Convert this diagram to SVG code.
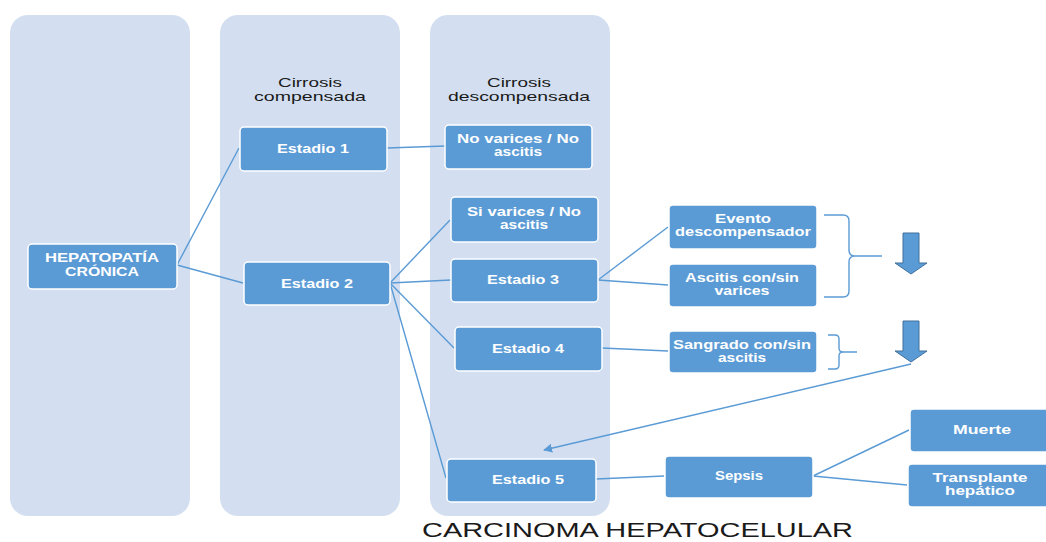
<svg xmlns="http://www.w3.org/2000/svg" width="1046" height="542" viewBox="0 0 1046 542">
<defs>
<style>
.col{fill:#d3dff0;}
.node rect{fill:#5b9bd5;stroke:#ffffff;stroke-width:1.5;}
.node text{fill:#ffffff;font-family:"Liberation Sans",Arial,sans-serif;font-weight:bold;font-size:12.5px;text-anchor:middle;}
.hdr{fill:#1a1a1a;font-family:"Liberation Sans",Arial,sans-serif;font-size:13px;text-anchor:middle;}
.conn{stroke:#5b9bd5;stroke-width:1.4;fill:none;}
.barrow{fill:#5b9bd5;stroke:#41719c;stroke-width:1;}
</style>
<marker id="ah" viewBox="0 0 10 10" refX="9" refY="5" markerWidth="9" markerHeight="9" markerUnits="userSpaceOnUse" orient="auto">
<path d="M0,0 L10,5 L0,10 Z" fill="#5b9bd5"/>
</marker>
</defs>
<rect width="1046" height="542" fill="#ffffff"/>
<g id="columns">
<rect class="col" x="10" y="15" width="180" height="501" rx="18"/>
<rect class="col" x="220" y="15" width="180" height="501" rx="18"/>
<rect class="col" x="430" y="15" width="180" height="501" rx="18"/>
</g>
<g id="headers">
<text class="hdr" x="310" y="87" textLength="64" lengthAdjust="spacingAndGlyphs">Cirrosis</text>
<text class="hdr" x="310" y="101" textLength="112" lengthAdjust="spacingAndGlyphs">compensada</text>
<text class="hdr" x="519" y="87" textLength="64" lengthAdjust="spacingAndGlyphs">Cirrosis</text>
<text class="hdr" x="519" y="101" textLength="142" lengthAdjust="spacingAndGlyphs">descompensada</text>
</g>
<g id="connectors">
<line class="conn" x1="177" y1="265" x2="239" y2="148"/>
<line class="conn" x1="177" y1="265" x2="243" y2="283"/>
<line class="conn" x1="387" y1="148" x2="445" y2="146"/>
<line class="conn" x1="390" y1="283" x2="450" y2="220"/>
<line class="conn" x1="390" y1="283" x2="451" y2="280"/>
<line class="conn" x1="390" y1="283" x2="454" y2="348"/>
<line class="conn" x1="390" y1="283" x2="446" y2="478"/>
<line class="conn" x1="598" y1="280" x2="668" y2="227"/>
<line class="conn" x1="598" y1="280" x2="668" y2="285"/>
<line class="conn" x1="602" y1="348" x2="668" y2="351"/>
<line class="conn" x1="596" y1="479" x2="664" y2="476"/>
<line class="conn" x1="813" y1="476" x2="909" y2="430"/>
<line class="conn" x1="813" y1="476" x2="907" y2="485"/>
<path class="conn" d="M824,215 L843,215 Q849,215 849,221 L849,250 Q849,256 855,256 L882,256 M855,256 Q849,256 849,262 L849,291 Q849,297 843,297 L824,297"/>
<path class="conn" d="M828,335 L835,335 Q839,335 839,339 L839,348 Q839,352 843,352 L857,352 M843,352 Q839,352 839,356 L839,365 Q839,369 835,369 L828,369"/>
<line class="conn" x1="911" y1="364" x2="544" y2="450" marker-end="url(#ah)"/>
</g>
<g id="block-arrows">
<path class="barrow" d="M903,233 L919,233 L919,263 L927,263 L911,274 L895,263 L903,263 Z"/>
<path class="barrow" d="M903,321 L919,321 L919,351 L927,351 L911,362 L895,351 L903,351 Z"/>
</g>
<g id="n-hepatopatia" class="node">
<rect x="28" y="244" width="149" height="45" rx="4"/>
<text x="102" y="262" textLength="114" lengthAdjust="spacingAndGlyphs">HEPATOPATÍA</text>
<text x="102" y="276" textLength="74" lengthAdjust="spacingAndGlyphs">CRÓNICA</text>
</g>
<g id="n-estadio1" class="node">
<rect x="240" y="127" width="147" height="44" rx="4"/>
<text x="313" y="153" textLength="72" lengthAdjust="spacingAndGlyphs">Estadio 1</text>
</g>
<g id="n-estadio2" class="node">
<rect x="244" y="262" width="146" height="43" rx="4"/>
<text x="317" y="288" textLength="72" lengthAdjust="spacingAndGlyphs">Estadio 2</text>
</g>
<g id="n-novarices" class="node">
<rect x="445" y="125" width="147" height="44" rx="4"/>
<text x="518" y="143" textLength="122" lengthAdjust="spacingAndGlyphs">No varices / No</text>
<text x="518" y="156" textLength="48" lengthAdjust="spacingAndGlyphs">ascitis</text>
</g>
<g id="n-sivarices" class="node">
<rect x="451" y="197" width="147" height="45" rx="4"/>
<text x="524" y="216" textLength="114" lengthAdjust="spacingAndGlyphs">Si varices / No</text>
<text x="524" y="229" textLength="48" lengthAdjust="spacingAndGlyphs">ascitis</text>
</g>
<g id="n-estadio3" class="node">
<rect x="451" y="259" width="147" height="43" rx="4"/>
<text x="523" y="284" textLength="72" lengthAdjust="spacingAndGlyphs">Estadio 3</text>
</g>
<g id="n-estadio4" class="node">
<rect x="455" y="327" width="147" height="44" rx="4"/>
<text x="528" y="353" textLength="72" lengthAdjust="spacingAndGlyphs">Estadio 4</text>
</g>
<g id="n-estadio5" class="node">
<rect x="447" y="459" width="149" height="43" rx="4"/>
<text x="528" y="484" textLength="72" lengthAdjust="spacingAndGlyphs">Estadio 5</text>
</g>
<g id="n-evento" class="node">
<rect x="669" y="205" width="148" height="44" rx="4"/>
<text x="743" y="223" textLength="56" lengthAdjust="spacingAndGlyphs">Evento</text>
<text x="743" y="236" textLength="136" lengthAdjust="spacingAndGlyphs">descompensador</text>
</g>
<g id="n-ascitis" class="node">
<rect x="669" y="264" width="148" height="43" rx="4"/>
<text x="742" y="282" textLength="114" lengthAdjust="spacingAndGlyphs">Ascitis con/sin</text>
<text x="742" y="295" textLength="55" lengthAdjust="spacingAndGlyphs">varices</text>
</g>
<g id="n-sangrado" class="node">
<rect x="669" y="331" width="148" height="42" rx="4"/>
<text x="742" y="349" textLength="138" lengthAdjust="spacingAndGlyphs">Sangrado con/sin</text>
<text x="742" y="362" textLength="48" lengthAdjust="spacingAndGlyphs">ascitis</text>
</g>
<g id="n-sepsis" class="node">
<rect x="665" y="456" width="148" height="42" rx="4"/>
<text x="739" y="480" textLength="48" lengthAdjust="spacingAndGlyphs">Sepsis</text>
</g>
<g id="n-muerte" class="node">
<rect x="910" y="409" width="142" height="43" rx="4"/>
<text x="982" y="434" textLength="58" lengthAdjust="spacingAndGlyphs">Muerte</text>
</g>
<g id="n-transplante" class="node">
<rect x="908" y="464" width="144" height="43" rx="4"/>
<text x="980" y="482" textLength="95" lengthAdjust="spacingAndGlyphs">Transplante</text>
<text x="980" y="495" textLength="70" lengthAdjust="spacingAndGlyphs">hepático</text>
</g>
<text x="422" y="537" font-family="Liberation Sans, Arial, sans-serif" font-size="21" fill="#1a1a1a" textLength="431" lengthAdjust="spacingAndGlyphs">CARCINOMA HEPATOCELULAR</text>
</svg>
